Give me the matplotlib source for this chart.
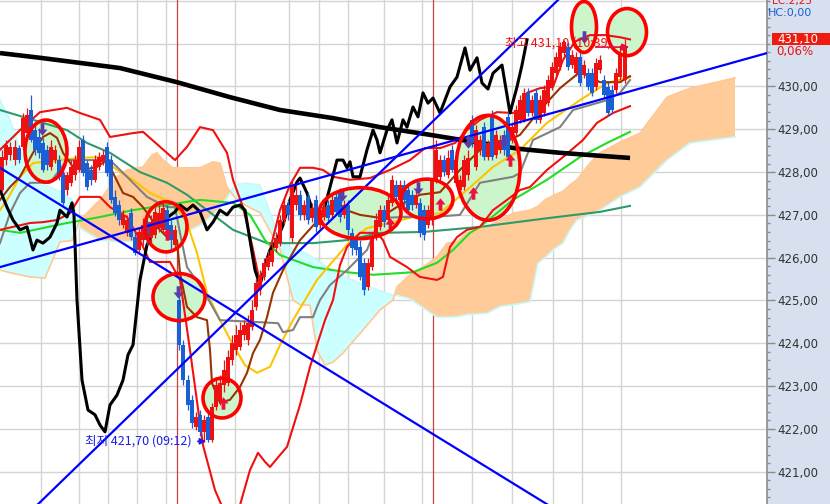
import numpy as np
import matplotlib
matplotlib.use('Agg')
import matplotlib.pyplot as plt
from matplotlib.patches import Ellipse, Rectangle
from matplotlib.path import Path

plt.rcParams['font.family'] = ['DejaVu Sans']
KFONT = ['Noto Sans CJK KR', 'DejaVu Sans']

# ---------------- data ----------------
bar_x = [2, 6, 10, 15, 19, 23, 27, 31, 35, 39, 43, 47, 51, 55, 59,
         63, 67, 71, 75, 79, 83, 87, 91, 95, 99, 103, 107, 111, 115, 119,
         123, 127, 131, 135, 139, 143, 147, 151, 155, 159, 163, 167, 171, 175, 179,
         183, 188, 192, 196, 200, 204, 208, 212, 216, 220, 224, 228, 232, 236, 240,
         244, 248, 252, 256, 260, 264, 268, 272, 276, 280, 284, 288, 292, 296, 300,
         304, 308, 312, 316, 320, 324, 328, 332, 336, 340, 344, 348, 352, 356, 360,
         364, 368, 372, 376, 380, 384, 388, 392, 396, 400, 404, 408, 412, 416, 420,
         424, 428, 432, 436, 440, 444, 448, 452, 456, 460, 464, 468, 472, 476, 480,
         484, 488, 492, 496, 500, 504, 508, 512, 516, 520, 524, 528, 532, 536, 540,
         544, 548, 552, 556, 560, 564, 568, 572, 576, 580, 584, 588, 592, 596, 600,
         604, 608, 612, 616, 620, 625]
c_open = [427.58,428.28,428.40,428.28,428.56,428.59,428.91,429.45,428.98,428.82,428.68,428.52,428.12,428.28,428.28,
          427.98,427.58,427.75,427.93,428.05,428.75,428.21,428.05,427.82,428.12,428.24,428.59,428.28,427.42,427.23,
          426.76,426.58,427.04,426.48,426.18,426.41,426.83,426.46,426.53,426.69,426.65,427.11,426.76,426.30,425.01,
          423.96,423.14,422.68,422.04,422.33,421.93,422.28,421.74,422.51,422.68,423.03,423.07,423.61,423.84,423.91,
          424.19,424.08,424.38,424.85,425.25,425.55,425.78,425.90,426.23,426.34,426.88,427.23,426.46,427.23,427.47,
          427.00,427.42,426.93,427.35,426.76,426.95,427.23,427.00,427.42,427.51,427.00,427.23,426.58,426.41,426.25,
          425.88,425.32,425.78,426.48,426.72,427.11,426.88,427.28,427.70,427.35,427.70,427.58,427.47,427.23,427.28,
          427.11,426.76,426.88,427.82,427.89,428.28,427.93,428.52,427.75,427.58,427.65,427.93,429.22,428.12,428.52,
          429.05,428.35,429.33,428.40,428.52,428.87,429.29,428.75,428.91,429.22,429.22,429.85,429.38,429.85,429.22,
          429.38,429.61,429.99,430.32,430.46,430.78,430.92,430.50,430.32,430.69,430.27,430.32,430.32,429.99,430.39,
          430.15,429.99,429.92,429.92,430.22,430.15]
c_close = [428.35,428.63,428.59,428.59,428.28,429.26,429.33,428.75,428.52,428.45,428.05,428.17,428.59,428.52,427.89,
           427.28,427.93,428.12,428.28,428.59,427.98,427.65,427.82,428.28,428.35,428.40,427.98,427.35,427.04,426.88,
           427.00,426.88,426.48,426.11,426.60,426.76,426.41,426.83,427.07,427.04,427.16,426.65,426.41,426.65,423.96,
           423.14,422.56,422.14,422.28,421.93,422.21,421.74,422.51,423.03,423.07,423.38,423.68,424.01,424.19,424.31,
           424.43,424.47,424.78,425.41,425.60,425.88,426.02,426.18,426.46,426.88,427.23,427.00,427.70,427.47,427.00,
           427.23,426.88,427.16,426.72,427.11,427.19,426.93,427.35,427.07,426.95,427.23,426.65,426.23,426.18,425.55,
           425.25,425.88,426.48,426.88,427.11,426.83,427.35,427.82,427.42,427.70,427.35,427.11,427.23,427.47,426.58,
           426.53,427.11,427.82,428.52,428.28,428.00,428.33,428.05,428.28,427.82,428.28,428.33,428.68,428.98,428.75,
           428.35,428.68,428.35,428.87,428.75,428.52,428.35,429.05,429.45,429.69,429.85,429.38,429.69,429.22,429.69,
           429.92,430.15,430.46,430.69,430.92,431.04,430.46,430.74,430.69,430.08,430.50,429.99,429.85,430.55,430.62,
           429.80,429.38,429.45,430.32,430.78,430.92]
c_high = [428.52,428.75,428.70,428.75,428.63,429.38,429.50,429.80,429.10,429.03,428.80,428.63,428.75,428.63,428.40,
          428.05,428.00,428.28,428.40,428.75,428.87,428.28,428.17,428.40,428.47,428.52,428.70,428.40,427.58,427.35,
          427.11,427.00,427.16,426.60,426.69,426.93,427.00,427.00,427.19,427.23,427.28,427.23,426.88,426.76,425.13,
          424.08,423.26,422.79,422.40,422.44,422.33,422.40,422.61,423.14,423.26,423.61,423.84,424.19,424.43,424.50,
          424.55,424.66,425.01,425.53,425.71,425.99,426.18,426.34,426.60,427.00,427.40,427.35,427.82,427.70,427.58,
          427.35,427.54,427.28,427.47,427.23,427.35,427.35,427.47,427.54,427.63,427.35,427.35,426.69,426.53,426.41,
          425.99,425.99,426.58,427.04,427.23,427.23,427.47,427.93,427.82,427.82,427.82,427.70,427.58,427.58,427.40,
          427.23,427.23,427.86,428.75,428.40,428.40,428.52,428.63,428.40,427.93,428.40,428.52,429.33,429.10,428.87,
          429.17,428.75,429.45,428.98,428.87,428.98,429.40,429.15,429.57,429.80,429.97,429.97,429.80,429.97,429.80,
          430.04,430.27,430.57,430.81,431.04,431.09,431.04,430.85,430.81,430.81,430.62,430.43,430.43,430.67,430.74,
          430.27,430.11,430.04,430.43,430.97,431.10]
c_low = [427.54,428.17,428.28,428.17,428.21,428.52,428.82,428.70,428.40,428.33,428.00,428.05,428.05,428.21,427.82,
         427.23,427.47,427.68,427.82,428.00,427.91,427.58,427.70,427.77,428.05,428.17,427.91,427.28,426.97,426.76,
         426.69,426.51,426.41,426.06,426.13,426.30,426.30,426.37,426.46,426.60,426.58,426.58,426.18,426.23,423.84,
         423.03,422.44,422.02,421.97,421.83,421.70,421.70,421.70,422.44,422.56,422.86,423.00,423.49,423.73,423.84,
         424.08,423.96,424.31,424.78,425.13,425.48,425.71,425.81,426.13,426.27,426.79,426.88,426.37,427.11,426.88,
         426.88,426.79,426.83,426.60,426.69,426.88,426.83,426.93,427.00,426.83,426.93,426.53,426.06,426.06,425.48,
         425.13,425.25,425.71,426.41,426.65,426.72,426.79,427.21,427.35,427.28,427.23,427.04,427.11,427.16,426.48,
         426.41,426.69,426.76,427.75,427.82,427.91,427.86,428.00,427.68,427.51,427.58,427.82,428.59,428.05,428.40,
         428.28,428.28,428.28,428.33,428.45,428.40,428.28,428.68,428.84,429.15,429.17,429.31,429.31,429.15,429.15,
         429.31,429.54,429.92,430.25,430.39,430.71,430.39,430.43,430.25,430.01,430.20,429.92,429.78,429.92,430.32,
         429.73,429.31,429.38,429.85,430.15,430.08]

ma_long_x = [0, 40, 80, 120, 177, 230, 280, 333, 380, 430, 480, 520, 560, 600, 630]
ma_long_p = [430.78, 430.67, 430.55, 430.43, 430.10, 429.75, 429.45, 429.26, 429.05, 428.87, 428.68, 428.54, 428.45, 428.38, 428.33]

blk_x = [0,7,13,20,27,33,37,43,50,57,60,67,72,74,77,82,88,95,100,105,110,117,123,128,133,140,147,153,160,167,175,
         180,187,193,200,207,213,220,227,233,240,245,250,255,260,265,270,277,283,290,297,300,307,313,323,330,337,
         343,347,350,353,360,367,373,377,380,387,392,397,403,407,413,418,423,428,433,440,450,457,465,470,477,482,
         488,493,502,510,517,522,527]
blk_p = [427.58,427.18,426.88,426.65,426.72,426.18,426.41,426.34,426.48,426.81,427.11,426.95,427.28,427.00,425.01,
         423.14,422.44,422.33,422.09,421.93,422.56,422.79,423.14,423.73,423.96,425.48,426.30,426.60,426.83,426.93,
         427.07,427.23,427.11,427.23,427.07,426.65,426.83,427.11,427.00,427.18,427.23,427.11,426.41,425.71,425.36,
         425.83,426.18,426.41,426.76,427.35,427.77,427.86,427.51,427.07,427.04,427.65,428.28,428.28,428.10,428.24,
         427.89,427.89,428.52,428.98,428.75,428.45,428.98,429.22,428.68,429.22,429.05,429.52,429.29,429.85,429.61,
         429.73,429.38,429.99,430.22,430.90,430.38,430.67,430.08,429.94,430.31,430.50,429.38,429.99,430.50,431.09]

teal_x = [0,33,67,87,110,140,167,187,207,233,267,313,347,380,423,480,550,600,630]
teal_p = [429.45,429.22,428.98,428.68,428.45,428.00,427.75,427.47,427.11,426.65,426.34,426.34,426.41,426.58,426.60,426.72,426.93,427.07,427.21]

green_x = [0,20,67,100,133,180,200,233,250,265,280,313,347,373,413,437,453,470,480,513,547,580,607,630]
green_p = [426.65,426.58,426.81,426.95,427.11,427.28,427.35,427.28,427.00,426.41,426.06,425.78,425.66,425.60,425.66,425.88,426.18,426.58,426.72,427.35,427.82,428.35,428.68,428.94]

yellow_x = [0,7,20,33,60,77,100,117,133,150,173,187,197,207,220,233,245,257,270,280,293,317,340,353,367,380,413,440,467,493,520,547,580,607,630]
yellow_p = [427.11,427.35,427.89,428.21,428.28,428.33,428.35,428.05,427.82,427.51,427.28,426.81,426.11,425.18,424.54,423.96,423.49,423.31,423.45,423.96,424.54,425.48,426.11,426.46,426.69,426.76,426.95,427.04,427.58,428.12,428.52,429.15,429.68,430.08,430.22]

gray_x = [0,10,20,30,50,67,90,110,127,147,167,175,180,187,203,220,278,283,293,300,313,317,320,330,347,367,380,407,433,460,480,513,520,533,560,573,607,620,630]
gray_p = [426.34,427.04,427.51,427.75,427.75,428.28,428.28,428.28,427.89,427.42,427.18,427.18,426.58,425.78,425.25,424.54,424.47,424.26,424.31,424.61,424.61,424.85,425.01,425.36,425.71,426.18,426.93,426.95,426.95,427.00,427.75,427.89,427.98,428.75,429.05,429.45,429.68,429.85,430.15]

brown_x = [0,10,20,33,43,50,57,63,73,83,97,107,113,123,133,143,157,167,177,180,187,197,207,210,212,220,230,240,247,253,260,267,273,283,300,320,340,360,380,400,420,440,460,480,500,520,540,560,580,600,620,630]
brown_p = [427.35,427.65,427.89,428.45,428.82,428.91,428.80,428.45,428.12,428.05,428.12,428.28,427.98,427.51,427.42,427.18,426.72,426.48,426.41,425.64,424.85,424.61,424.54,423.84,423.07,422.61,422.68,422.98,423.31,423.77,424.08,424.61,425.18,425.71,426.41,426.93,427.16,427.00,426.93,427.23,427.47,427.53,428.05,428.52,428.63,428.87,429.45,429.96,430.34,430.10,430.10,430.24]

bb_up_x = [0,20,40,67,80,100,110,133,143,160,175,187,200,213,227,233,243,252,260,270,280,290,300,313,323,333,350,370,390,410,425,440,455,467,480,497,513,520,527,540,553,563,575,590,605,620,630]
bb_up_p = [428.52,428.98,429.40,429.50,429.38,429.22,428.82,428.91,428.94,428.59,428.28,428.59,429.05,428.98,428.45,427.82,427.18,426.30,425.41,426.18,427.11,427.70,428.10,428.10,428.05,427.89,427.82,427.86,428.05,428.28,428.56,428.56,428.68,428.98,429.22,429.40,429.38,429.45,429.85,429.96,429.99,430.62,431.05,431.20,431.20,431.15,431.10]

bb_dn_x = [0,30,43,57,70,80,100,110,127,140,150,170,180,190,203,215,228,240,250,258,265,270,280,287,300,310,325,333,340,347,360,377,383,390,407,420,437,443,450,457,467,480,493,507,520,530,547,563,583,597,613,630]
bb_dn_p = [426.65,426.81,426.83,426.88,427.04,427.42,427.42,427.18,426.95,426.41,425.90,425.90,425.48,423.84,421.62,420.57,419.87,420.22,421.04,421.44,421.23,421.11,421.39,421.58,422.56,423.45,424.54,425.01,425.83,426.25,426.58,426.58,426.41,426.02,425.78,425.55,425.48,425.55,426.25,426.48,426.65,426.72,427.11,427.35,427.58,427.65,428.05,428.35,428.75,429.15,429.38,429.54]

span_x = [0,10,20,30,45,60,72,80,100,117,127,143,152,157,163,173,200,213,220,227,235,245,260,280,293,300,310,317,325,333,343,363,380,393,397,410,423,437,447,457,467,487,500,513,530,538,545,553,563,570,577,590,600,620,640,667,690,713,735]
span_a = [429.68,429.22,428.52,427.93,427.70,427.54,427.35,426.69,426.41,426.37,426.37,426.39,426.41,426.41,426.42,426.44,426.76,427.00,427.18,427.40,427.70,427.74,427.70,426.41,426.20,426.18,426.04,425.95,425.82,425.68,425.58,425.37,425.23,425.12,425.12,425.04,424.83,424.61,424.61,424.62,424.67,424.70,424.86,424.90,424.97,425.87,426.00,426.18,426.34,426.65,426.88,427.00,427.11,427.42,427.65,428.28,428.68,428.75,428.82]
span_b = [425.71,425.65,425.60,425.55,425.52,426.37,426.40,426.88,427.35,427.89,428.05,428.12,428.40,428.45,428.28,428.10,428.10,428.24,428.21,427.65,427.40,427.23,427.05,426.20,425.01,424.90,424.89,423.84,423.49,423.56,423.77,424.31,424.78,425.01,425.32,425.60,425.78,426.02,426.34,426.37,426.58,426.72,426.88,427.04,427.11,427.20,427.35,427.45,427.55,427.70,427.82,428.21,428.45,428.70,428.91,429.75,429.96,430.08,430.20]

trend_lines = [([0, 767], [425.78, 430.78]),
               ([38, 558], [420.24, 432.02]),
               ([0, 547], [428.10, 420.24])]

circles = [(46, 428.49, 42, 1.45), (166, 426.72, 42, 1.17), (179, 425.08, 52, 1.10),
           (222, 422.72, 38, 0.93), (360, 427.04, 82, 1.19), (427, 427.37, 52, 0.93),
           (488, 428.10, 64, 2.45), (584, 431.39, 25, 1.19), (627, 431.27, 39, 1.10)]

sell_x = [42, 178, 342, 418, 468, 503, 584]
sell_p = [429.01, 425.20, 427.47, 427.63, 428.70, 428.73, 431.16]
buy_x = [167, 223, 390, 440, 473, 510]
buy_p = [426.55, 422.60, 426.79, 427.25, 427.51, 428.28]

grid_x = [40.7, 78.7, 107.5, 136.7, 165.7, 235.3, 289.3, 318.5, 347.7, 384.3, 421.7, 471.5, 512.3, 553.3, 582, 620.5]
day_x = [177.3, 433.3]
price_ticks = list(range(421, 431))

low_text = '최저 421,70 (09:12)'
high_text = '최고 431,10 (10:39)'
last_price = 431.10

# ---------------- figure ----------------
fig = plt.figure(figsize=(8.3, 5.04), dpi=100)
fig.patch.set_facecolor('#D6E0EE')
ax = fig.add_axes([0, 0, 767 / 830, 1])
ax.set_facecolor('white')
ax.set_xlim(0, 767)
ax.set_ylim(420.245, 432.02)

for s in ['top', 'left', 'bottom']:
    ax.spines[s].set_visible(False)
ax.spines['right'].set_color('#8C8C8C')
ax.spines['right'].set_linewidth(1.2)
ax.set_xticks([])

for p in range(421, 433):
    ax.axhline(p, color='#D4D4D4', lw=1.0, zorder=0)
for gx in grid_x:
    ax.axvline(gx, color='#D4D4D4', lw=1.0, zorder=0)
for dx in day_x:
    ax.axvline(dx, color='#C84040', lw=0.9, zorder=0.5)

sx = np.array(span_x); sa = np.array(span_a); sb = np.array(span_b)
ax.fill_between(sx, sa, sb, where=sa >= sb, interpolate=True, color='#CCFFFF', lw=0, zorder=1)
ax.fill_between(sx, sa, sb, where=sa < sb, interpolate=True, color='#FFCC99', lw=0, zorder=1)
ax.plot(sx, sa, color='#C8F8F8', lw=1.2, zorder=1.1)
ax.plot(sx, sb, color='#FFC896', lw=1.2, zorder=1.1)

for cx, cy, w, h in circles:
    ax.add_patch(Ellipse((cx, cy), w, h, facecolor='#CCF5CC', edgecolor='none', zorder=1.5))

ax.plot(teal_x, teal_p, color='#2E9B6A', lw=1.5, zorder=2)
ax.plot(green_x, green_p, color='#22DD22', lw=1.5, zorder=2)
ax.plot(yellow_x, yellow_p, color='#FFC400', lw=1.5, zorder=2)
ax.plot(gray_x, gray_p, color='#808080', lw=1.5, zorder=2)
ax.plot(brown_x, brown_p, color='#993300', lw=1.5, zorder=2)
ax.plot(bb_up_x, bb_up_p, color='#F01010', lw=1.5, zorder=2)
ax.plot(bb_dn_x, bb_dn_p, color='#F01010', lw=1.5, zorder=2)
ax.plot(ma_long_x, ma_long_p, color='black', lw=3.3, zorder=3, solid_capstyle='butt')
ax.plot(blk_x, blk_p, color='black', lw=2.2, zorder=3)

bx = np.array(bar_x, dtype=float)
o = np.array(c_open); c = np.array(c_close); hi = np.array(c_high); lo = np.array(c_low)
cols = np.where(c >= o, '#EE1111', '#1A5FD6')
ax.vlines(bx, lo, hi, colors=cols, lw=0.9, zorder=4)
hgt = np.where(np.abs(c - o) < 0.03, 0.03, c - o)
ax.bar(bx, hgt, bottom=o, width=3.1, color=cols, lw=0, zorder=4.1, antialiased=False)

for tx, tp in trend_lines:
    ax.plot(tx, tp, color='#0000FF', lw=1.6, zorder=5)

for cx, cy, w, h in circles:
    ax.add_patch(Ellipse((cx, cy), w, h, facecolor='none', edgecolor='#FF0000', lw=2.6, zorder=6))

down_arrow = Path([(-0.3, 1), (0.3, 1), (0.3, 0), (0.8, 0), (0, -1), (-0.8, 0), (-0.3, 0), (-0.3, 1)])
up_arrow = Path([(-0.3, -1), (0.3, -1), (0.3, 0), (0.8, 0), (0, 1), (-0.8, 0), (-0.3, 0), (-0.3, -1)])
ax.plot(sell_x, sell_p, ls='none', marker=down_arrow, ms=9, color='#5A3DA8', mec='none', zorder=5.5)
ax.plot(buy_x, buy_p, ls='none', marker=up_arrow, ms=9, color='#F0103C', mec='none', zorder=5.5)

ax.text(85, 421.71, low_text, color='#1E1EE6', fontsize=9, family=KFONT, va='center', ha='left', zorder=7)
ax.annotate('', xy=(209, 421.71), xytext=(195, 421.71),
            arrowprops=dict(arrowstyle='-|>', color='#1E1EE6', lw=1.2, mutation_scale=9), zorder=7)
ax.text(505, 431.02, high_text, color='#F01010', fontsize=9, family=KFONT, va='center', ha='left', zorder=5.8)
ax.annotate('', xy=(632, 430.92), xytext=(593, 430.92),
            arrowprops=dict(arrowstyle='-|>', color='#E0103A', lw=1.2, mutation_scale=10), zorder=7)

ax.yaxis.tick_right()
ax.set_yticks(price_ticks)
ax.set_yticklabels([f'{v:.2f}'.replace('.', ',') for v in price_ticks])
ax.set_yticks(np.arange(420.4, 432.0, 0.2), minor=True)
ax.tick_params(axis='y', which='major', direction='out', length=6, width=1, color='#8C8C8C',
               labelcolor='#333333', labelsize=8.5, pad=1.5)
ax.tick_params(axis='y', which='minor', direction='out', length=2.5, width=1, color='#8C8C8C')

fig.text(772 / 830, 1 - 1 / 504, 'LC:2,25', color='#F01010', fontsize=7.5, va='center', ha='left')
fig.text(768 / 830, 1 - 13 / 504, 'HC:0,00', color='#1E5FD6', fontsize=8, va='center', ha='left')
fig.patches.append(Rectangle((772 / 830, 1 - 45 / 504), 58 / 830, 12 / 504, transform=fig.transFigure,
                             facecolor='#EE1C10', edgecolor='none'))
fig.text(777 / 830, 1 - 39 / 504, f'{last_price:.2f}'.replace('.', ','), color='white', fontsize=8.5, va='center', ha='left')
fig.text(776 / 830, 1 - 51 / 504, '0,06%', color='#F01010', fontsize=8.5, va='center', ha='left')

fig.savefig('out.png', dpi=100, facecolor=fig.get_facecolor())
